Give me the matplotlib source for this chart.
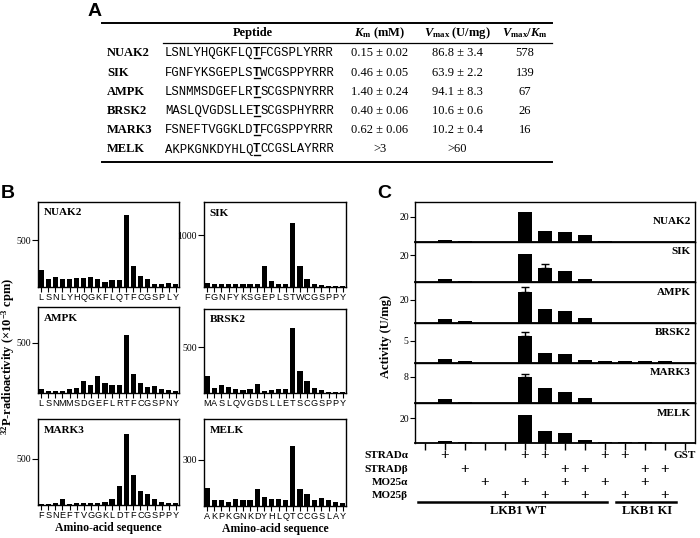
import matplotlib
matplotlib.use('Agg')
import matplotlib.pyplot as plt
import matplotlib.transforms as mtransforms
from matplotlib.lines import Line2D

plt.rcParams['mathtext.fontset'] = 'custom'
plt.rcParams['mathtext.rm'] = 'Liberation Serif:bold'
plt.rcParams['mathtext.it'] = 'Liberation Serif:italic:bold'
plt.rcParams['mathtext.bf'] = 'Liberation Serif:bold'

SERIF = 'Liberation Serif'
MONO = 'Liberation Mono'
SANS = 'Liberation Sans'

# ---------------- data ----------------
kinases = ['NUAK2', 'SIK', 'AMPK', 'BRSK2', 'MARK3', 'MELK']
peptides = ['LSNLYHQGKFLQTFCGSPLYRRR', 'FGNFYKSGEPLSTWCGSPPYRRR',
            'LSNMMSDGEFLRTSCGSPNYRRR', 'MASLQVGDSLLETSCGSPHYRRR',
            'FSNEFTVGGKLDTFCGSPPYRRR', 'AKPKGNKDYHLQTCCGSLAYRRR']
km_text = ['0.15 ± 0.02', '0.46 ± 0.05', '1.40 ± 0.24', '0.40 ± 0.06', '0.62 ± 0.06', '>3']
vmax_text = ['86.8 ± 3.4', '63.9 ± 2.2', '94.1 ± 8.3', '10.6 ± 0.6', '10.2 ± 0.4', '>60']
ratio_text = ['578', '139', '67', '26', '16', '']

residues = ['LSNLYHQGKFLQTFCGSPLY', 'FGNFYKSGEPLSTWCGSPPY', 'LSNMMSDGEFLRTFCGSPNY',
            'MASLQVGDSLLETSCGSPPY', 'FSNEFTVGGKLDTFCGSPPY', 'AKPKGNKDYHLQTCCGSLAY']
b_nuak2 = [181, 83, 98, 83, 83, 94, 87, 98, 76, 47, 65, 65, 772, 217, 109, 76, 29, 25, 40, 29]
b_sik = [84, 65, 65, 65, 65, 65, 65, 65, 406, 110, 65, 65, 1226, 406, 161, 65, 45, 26, 26, 26]
b_ampk = [37, 17, 17, 17, 37, 50, 117, 83, 170, 97, 83, 83, 577, 193, 103, 60, 70, 37, 27, 17]
b_brsk2 = [188, 55, 85, 70, 48, 37, 44, 103, 18, 37, 48, 48, 710, 239, 132, 55, 37, 11, 11, 11]
b_mark3 = [11, 11, 22, 62, 11, 25, 25, 25, 25, 36, 62, 210, 761, 319, 156, 120, 62, 36, 25, 25]
b_melk = [118, 36, 36, 28, 43, 36, 36, 107, 60, 43, 43, 36, 392, 111, 81, 36, 49, 36, 28, 21]
b_values = [b_nuak2, b_sik, b_ampk, b_brsk2, b_mark3, b_melk]
b_ticks = [500, 1000, 500, 500, 500, 300]
b_ylim = [913, 1635, 853, 923, 928, 564]

c_nuak2 = [0, 1.9, 1.1, 0, 0, 23.5, 8.8, 8.0, 5.3, 1.1, 0, 0, 0, 0]
c_sik = [0, 2.5, 1.0, 0, 0, 20.5, 10.75, 8.25, 2.5, 0, 0, 0, 0, 0]
c_ampk = [0, 3.6, 1.5, 0, 0, 27.0, 11.9, 10.7, 4.1, 0, 0, 0, 0, 0]
c_brsk2 = [0, 0.83, 0.45, 0, 0, 6.1, 2.3, 2.0, 0.6, 0.38, 0.38, 0.38, 0.38, 0]
c_mark3 = [0, 1.1, 0.3, 0, 0, 7.8, 4.65, 3.25, 1.4, 0, 0, 0, 0, 0]
c_melk = [0, 1.6, 0.8, 0, 0, 22.7, 10.0, 8.4, 2.4, 0.8, 0.8, 0.8, 0, 0]
c_values = [c_nuak2, c_sik, c_ampk, c_brsk2, c_mark3, c_melk]
c_err_sik = [0, 0, 0, 0, 0, 0, 2.25, 0, 0, 0, 0, 0, 0, 0]
c_err_ampk = [0, 0, 0, 0, 0, 4.5, 0, 0, 0, 0, 0, 0, 0, 0]
c_err_brsk2 = [0, 0, 0, 0, 0, 0.9, 0, 0, 0, 0, 0, 0, 0, 0]
c_err_mark3 = [0, 0, 0, 0, 0, 1.0, 0, 0, 0, 0, 0, 0, 0, 0]
c_errors = [None, c_err_sik, c_err_ampk, c_err_brsk2, c_err_mark3, None]
c_ticks = [20, 20, 20, 5, 8, 20]
c_ylim = [31.6, 29.7, 35.6, 9.0, 12.2, 32.4]

strad_a = [0, 1, 0, 0, 0, 1, 1, 0, 0, 1, 1, 0, 0, 0]
strad_b = [0, 0, 1, 0, 0, 0, 0, 1, 1, 0, 0, 1, 1, 0]
mo25_a = [0, 0, 0, 1, 0, 1, 0, 1, 0, 1, 0, 1, 0, 0]
mo25_b = [0, 0, 0, 0, 1, 0, 1, 0, 1, 0, 1, 0, 1, 0]
cond_labels = ['STRADα', 'STRADβ', 'MO25α', 'MO25β']

# ---------------- figure ----------------
W, H = 700, 538
fig = plt.figure(figsize=(7, 5.38), dpi=100)


def fx(x):
    return x / W


def fy(y):
    return 1 - y / H


def add_ax(x0, y0, x1, y1):
    return fig.add_axes([fx(x0), fy(y1), (x1 - x0) / W, (y1 - y0) / H])


# ---------------- Panel A: table ----------------
fig.text(fx(95), fy(11), 'A', fontsize=14, fontweight='bold', family=SANS, ha='center', va='center')
fig.add_artist(Line2D([fx(102), fx(552)], [fy(23), fy(23)], color='black', lw=1.4))
fig.add_artist(Line2D([fx(163), fx(552)], [fy(42.5), fy(42.5)], color='black', lw=0.9))
fig.add_artist(Line2D([fx(102), fx(552)], [fy(162), fy(162)], color='black', lw=1.4))

hdr_y = fy(36)
fig.text(fx(253), hdr_y, 'Peptide', fontsize=9, fontweight='bold', family=SERIF, ha='center', va='baseline')
fig.text(fx(380), hdr_y, r'$K_\mathrm{m}$ (mM)', fontsize=9, fontweight='bold', family=SERIF, ha='center', va='baseline')
fig.text(fx(457), hdr_y, r'$V_\mathrm{max}$ (U/mg)', fontsize=9, fontweight='bold', family=SERIF, ha='center', va='baseline')
fig.text(fx(525), hdr_y, r'$V_\mathrm{max}$/$K_\mathrm{m}$', fontsize=9, fontweight='bold', family=SERIF, ha='center', va='baseline')

row_base = [56, 75.5, 95, 114, 133, 152.5]
mono_size = 8.8
cw = 0.6 * mono_size * 100 / 72  # char width in px
pep_x0 = 165
for i, name in enumerate(kinases):
    yb = row_base[i]
    fig.text(fx(107), fy(yb), name, fontsize=9, fontweight='bold', family=SERIF, ha='left', va='baseline')
    pep = peptides[i]
    fig.text(fx(pep_x0), fy(yb), pep[:12], fontsize=mono_size, family=MONO, ha='left', va='baseline')
    fig.text(fx(pep_x0 + 12 * cw), fy(yb), pep[12], fontsize=mono_size, family=MONO, fontweight='bold', ha='left', va='baseline')
    fig.text(fx(pep_x0 + 13 * cw), fy(yb), pep[13:], fontsize=mono_size, family=MONO, ha='left', va='baseline')
    fig.add_artist(Line2D([fx(pep_x0 + 12 * cw + 0.5), fx(pep_x0 + 13 * cw - 0.5)], [fy(yb + 2.2), fy(yb + 2.2)], color='black', lw=1.0))
    fig.text(fx(380), fy(yb), km_text[i], fontsize=9, family=SERIF, ha='center', va='baseline')
    fig.text(fx(457), fy(yb), vmax_text[i], fontsize=9, family=SERIF, ha='center', va='baseline')
    fig.text(fx(525), fy(yb), ratio_text[i], fontsize=9, family=SERIF, ha='center', va='baseline')

# ---------------- Panel B ----------------
fig.text(fx(8), fy(194), 'B', fontsize=14, fontweight='bold', family=SANS, ha='center', va='center')
b_boxes = [(38, 202, 179, 286.5), (204, 202, 346, 287),
           (38, 307, 179, 393), (204, 309, 346, 393),
           (38, 419, 179, 505), (204, 419, 346, 506)]
for i, name in enumerate(kinases):
    x0, y0, x1, y1 = b_boxes[i]
    ax = add_ax(x0, y0, x1, y1)
    vals = b_values[i]
    xs = list(range(len(vals)))
    ax.bar(xs, vals, width=0.74, color='black')
    ax.set_xlim(-0.45, len(vals) - 0.55)
    ax.set_ylim(0, b_ylim[i])
    ax.set_xticks(xs)
    ax.set_xticklabels(list(residues[i]), fontsize=6.6, family=SANS)
    ax.tick_params(axis='x', direction='out', length=3.5, width=0.8, pad=1)
    ax.set_yticks([b_ticks[i]])
    ax.set_yticklabels([str(b_ticks[i])], fontsize=7, family=SERIF)
    ax.tick_params(axis='y', direction='out', length=4, width=0.8, pad=1)
    for s in ax.spines.values():
        s.set_linewidth(1.0)
    ax.text(0.04, 0.87, name, transform=ax.transAxes, fontsize=8, fontweight='bold', family=SERIF, ha='left', va='center')
    if i >= 4:
        ax.set_xlabel('Amino-acid sequence', fontsize=8.5, fontweight='bold', family=SERIF, labelpad=1)

fig.text(fx(8), fy(356), r'$^{32}$P-radioactivity (×10$^{-3}$ cpm)', rotation=90, fontsize=9,
         fontweight='bold', family=SERIF, ha='center', va='center')

# ---------------- Panel C ----------------
fig.text(fx(384), fy(194), 'C', fontsize=14, fontweight='bold', family=SANS, ha='center', va='center')
c_tops = [202, 242, 282, 323, 363, 403]
c_bottoms = [242, 282, 323, 363, 403, 443]
title_offset = [0.52, 0.75, 0.75, 0.76, 0.76, 0.74]
axes_c = []
for i, name in enumerate(kinases):
    ax = add_ax(415, c_tops[i], 695, c_bottoms[i])
    vals = c_values[i]
    xs = list(range(len(vals)))
    ax.bar(xs, vals, width=0.7, color='black', zorder=3)
    if c_errors[i] is not None:
        err = c_errors[i]
        for xi, (v, e) in enumerate(zip(vals, err)):
            if e > 0:
                ax.errorbar([xi], [v], yerr=[[0], [e]], fmt='none', ecolor='black', elinewidth=1.0,
                            capsize=2.6, capthick=1.0, zorder=3)
    ax.set_xlim(-0.5, 13.5)
    ax.set_ylim(0, c_ylim[i])
    ax.set_yticks([c_ticks[i]])
    ax.set_yticklabels([str(c_ticks[i])], fontsize=7, family=SERIF)
    ax.tick_params(axis='y', direction='out', length=3.5, width=0.8, pad=1)
    ax.patch.set_alpha(0)
    for s in ax.spines.values():
        s.set_linewidth(1.0)
    ax.spines['bottom'].set_linewidth(1.3)
    if i < 5:
        ax.set_xticks([])
    else:
        ax.set_xticks(xs)
        ax.set_xticklabels([])
        ax.tick_params(axis='x', direction='out', length=5, width=1.0)
    ax.text(0.985, title_offset[i], name, transform=ax.transAxes, fontsize=8, fontweight='bold',
            family=SERIF, ha='right', va='center')
    axes_c.append(ax)

fig.text(fx(386), fy(336), 'Activity (U/mg)', rotation=90, fontsize=9, fontweight='bold',
         family=SERIF, ha='center', va='center')

axb = axes_c[-1]
trans = mtransforms.blended_transform_factory(axb.transData, fig.transFigure)
row_y = [456, 470, 482.5, 495]
conds = [strad_a, strad_b, mo25_a, mo25_b]
for r, (lab, flags) in enumerate(zip(cond_labels, conds)):
    fig.text(fx(408), fy(row_y[r]), lab, fontsize=8, fontweight='bold', family=SERIF, ha='right', va='center')
    for xi, f in enumerate(flags):
        if f:
            axb.text(xi, fy(row_y[r]), '+', transform=trans, fontsize=11, fontweight='bold',
                     family=SERIF, ha='center', va='center')
axb.text(13, fy(456), 'GST', transform=trans, fontsize=8, fontweight='bold', family=SERIF, ha='center', va='center')

axb.add_artist(Line2D([-0.33, 9.12], [fy(502), fy(502)], transform=trans, color='black', lw=1.8, clip_on=False))
axb.add_artist(Line2D([9.55, 12.55], [fy(502), fy(502)], transform=trans, color='black', lw=1.8, clip_on=False))
axb.text(4.65, fy(511), 'LKB1 WT', transform=trans, fontsize=9, fontweight='bold', family=SERIF, ha='center', va='center')
axb.text(11.1, fy(511), 'LKB1 KI', transform=trans, fontsize=9, fontweight='bold', family=SERIF, ha='center', va='center')

fig.savefig('out.png', dpi=100)
